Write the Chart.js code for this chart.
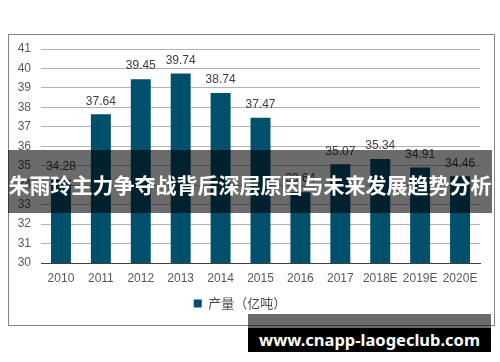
<!DOCTYPE html>
<html>
<head>
<meta charset="utf-8">
<script src="https://cdn.jsdelivr.net/npm/chart.js@4.4.0/dist/chart.umd.min.js"></script>
<style>
  html, body { margin: 0; padding: 0; background: #fff; }
  #wrap { position: relative; width: 500px; height: 362px; overflow: hidden; }
  #frame { position: absolute; left: 8px; top: 34px; width: 485px; height: 290px; border: 1px solid #858585; box-sizing: content-box; }
  canvas { position: absolute; left: 0; top: 0; }
  #banner { position: absolute; left: 8px; top: 150px; width: 484px; height: 63px; background: rgba(0,0,0,0.58);
            color: #fff; font-family: "Noto Sans CJK SC", sans-serif; font-weight: bold; font-size: 21px;
            line-height: 63px; text-align: center; white-space: nowrap; }
  #banner span { position: relative; top: 3px; }
  #wmgray { position: absolute; left: 248px; top: 314px; width: 243px; height: 14px; background: rgba(0,0,0,0.58); }
  #wm { position: absolute; left: 248px; top: 328px; width: 243px; height: 24px; background: #000; color: #fff;
        font-family: "Noto Sans", sans-serif; font-weight: bold; font-size: 18px; line-height: 24px; text-align: center; white-space: nowrap; }
</style>
</head>
<body>
<div id="wrap">
  <div id="frame"></div>
  <canvas id="c" width="500" height="362"></canvas>
  <div id="banner"><span>朱雨玲主力争夺战背后深层原因与未来发展趋势分析</span></div>
  <div id="wmgray"></div>
  <div id="wm"><span id="wmt">www.cnapp-laogeclub.com</span></div>
</div>
<script>
const categories = ["2010","2011","2012","2013","2014","2015","2016","2017","2018E","2019E","2020E"];
const production = [34.28, 37.64, 39.45, 39.74, 38.74, 37.47, 33.64, 35.07, 35.34, 34.91, 34.46];
const seriesName = "产量（亿吨）";
const yMin = 30, yMax = 41, yStep = 1;

// fit watermark text width
(function(){
  const s = document.getElementById('wmt');
  const w = s.getBoundingClientRect().width;
  const target = 221;
  document.getElementById('wm').style.fontSize = (18 * target / w).toFixed(2) + 'px';
})();

const valueLabels = {
  id: 'valueLabels',
  afterDatasetsDraw(chart) {
    const ctx = chart.ctx;
    ctx.save();
    ctx.font = '12px "Liberation Sans", Arial, sans-serif';
    ctx.fillStyle = '#404040';
    ctx.textAlign = 'center';
    ctx.textBaseline = 'bottom';
    chart.getDatasetMeta(0).data.forEach((bar, i) => {
      ctx.fillText(production[i].toFixed(2), bar.x, bar.y - 7);
    });
    ctx.restore();
  }
};

new Chart(document.getElementById('c'), {
  type: 'bar',
  data: {
    labels: categories,
    datasets: [{
      label: seriesName,
      data: production,
      backgroundColor: '#00506b',
      borderWidth: 0,
      barPercentage: 0.5,
      categoryPercentage: 1.0
    }]
  },
  options: {
    responsive: false,
    animation: false,
    devicePixelRatio: 1,
    layout: { padding: { left: 0, right: 20, top: 49, bottom: 42 } },
    plugins: {
      legend: {
        position: 'bottom',
        labels: {
          boxWidth: 8, boxHeight: 8, padding: 10,
          color: '#4d4d4d',
          font: { size: 13, family: '"Noto Sans CJK SC", "Liberation Sans", sans-serif' }
        }
      },
      tooltip: { enabled: false }
    },
    scales: {
      x: {
        grid: { display: false, drawTicks: false },
        border: { display: true, color: '#404040', width: 1 },
        ticks: { color: '#595959', padding: 8, maxRotation: 0, autoSkip: false,
                 font: { size: 12, family: '"Liberation Sans", Arial, sans-serif' } },
        afterFit(scale) { scale.height = 24; }
      },
      y: {
        min: yMin, max: yMax,
        grid: { color: '#b3b3b3', drawTicks: false, lineWidth: 1 },
        border: { display: false },
        ticks: { stepSize: yStep, color: '#595959', padding: 10,
                 font: { size: 12, family: '"Liberation Sans", Arial, sans-serif' } },
        afterFit(scale) { scale.width = 41; }
      }
    }
  },
  plugins: [valueLabels]
});
</script>
</body>
</html>
